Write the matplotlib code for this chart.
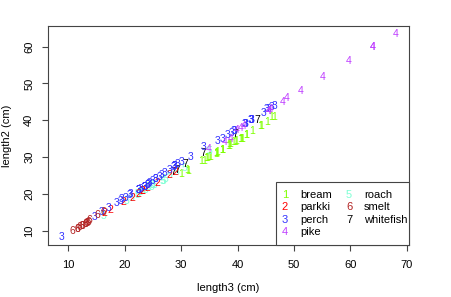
import matplotlib
matplotlib.use("Agg")
import matplotlib.pyplot as plt
from matplotlib.patches import Rectangle

plt.rcParams['font.family'] = ['Liberation Sans', 'DejaVu Sans']

# fish data: species code, length2 (cm), length3 (cm)
species_names = ["bream", "parkki", "perch", "pike", "roach", "smelt", "whitefish"]
species_colors = ["#7FFF00", "#FF0000", "#3333FF", "#BF3EFF", "#7FFFD4", "#B22222", "#000000"]

bream_l2 = [25.4, 26.3, 26.5, 29.0, 29.0, 29.7, 29.7, 30.0, 30.0, 30.7, 31.0, 31.0, 31.5, 32.0, 32.0, 32.0,
            33.0, 33.0, 33.5, 33.5, 34.0, 34.0, 34.5, 35.0, 35.0, 35.0, 35.0, 36.0, 36.0, 37.0, 38.5, 38.5,
            39.5, 41.0, 41.0]
bream_l3 = [30.0, 31.2, 31.1, 33.5, 34.0, 34.7, 34.5, 35.0, 35.1, 36.2, 36.2, 36.2, 36.4, 37.3, 37.2, 37.2,
            38.3, 38.5, 38.6, 38.7, 39.5, 39.2, 39.7, 40.6, 40.5, 40.9, 40.6, 41.5, 41.6, 42.6, 44.1, 44.0,
            45.3, 45.9, 46.5]
roach_l2 = [14.1, 18.2, 18.8, 19.8, 20.0, 20.5, 20.8, 21.0, 22.0, 22.0, 22.5, 22.5, 22.5, 24.0, 23.4, 23.5,
            25.2, 26.0, 27.0, 31.7]
roach_l3 = [16.2, 20.3, 21.2, 22.2, 22.2, 22.8, 23.1, 23.7, 24.7, 24.3, 25.3, 25.0, 25.0, 27.2, 26.7, 26.8,
            27.9, 29.2, 30.6, 35.0]
whitefish_l2 = [26.0, 26.5, 28.0, 31.0, 36.4, 40.0]
whitefish_l3 = [28.7, 29.3, 30.8, 34.0, 39.6, 43.5]
parkki_l2 = [14.7, 15.5, 17.7, 19.0, 20.0, 20.7, 20.7, 21.5, 23.0, 25.0, 26.0]
parkki_l3 = [16.5, 17.4, 19.8, 21.3, 22.4, 23.2, 23.2, 24.1, 25.8, 28.0, 29.0]
perch_l2 = [8.4, 13.7, 15.0, 16.2, 17.4, 18.0, 18.7, 19.0, 19.6, 20.0, 21.0, 21.0, 21.0, 21.3, 22.0, 22.0,
            22.0, 22.0, 22.0, 22.5, 22.5, 22.7, 23.0, 23.5, 24.0, 24.0, 24.6, 25.0, 25.6, 26.5, 27.3, 27.5,
            27.5, 27.5, 28.0, 28.7, 30.0, 32.8, 34.5, 35.0, 36.5, 36.0, 37.0, 37.0, 39.0, 39.0, 39.0, 40.0,
            40.0, 40.0, 40.0, 42.0, 43.0, 43.0, 43.5, 44.0]
perch_l3 = [8.8, 14.7, 16.0, 17.2, 18.5, 19.2, 19.4, 20.2, 20.8, 21.0, 22.5, 22.5, 22.5, 22.8, 23.5, 23.5,
            23.5, 23.5, 23.5, 24.0, 24.0, 24.2, 24.5, 25.0, 25.5, 25.5, 26.2, 26.5, 27.0, 28.0, 28.7, 28.9,
            28.9, 28.9, 29.4, 30.1, 31.6, 34.0, 36.5, 37.3, 39.0, 38.3, 39.4, 39.3, 41.4, 41.4, 41.3, 42.3,
            42.5, 42.4, 42.5, 44.6, 45.2, 45.5, 46.0, 46.6]
pike_l2 = [32.3, 34.0, 35.0, 37.3, 38.0, 38.5, 42.5, 42.5, 43.0, 45.0, 46.0, 48.0, 51.7, 56.0, 60.0, 60.0, 63.4]
pike_l3 = [34.8, 37.8, 38.8, 39.8, 40.5, 41.0, 45.5, 45.5, 45.8, 48.0, 48.7, 51.2, 55.1, 59.7, 64.0, 64.0, 68.0]
smelt_l2 = [9.8, 10.5, 10.6, 11.0, 11.2, 11.3, 11.8, 11.8, 12.0, 12.2, 12.4, 13.0, 14.3, 15.0]
smelt_l3 = [10.8, 11.6, 11.6, 12.0, 12.4, 12.6, 13.1, 13.1, 13.2, 13.4, 13.5, 13.8, 15.2, 16.2]

# drawing order as in the data file: (code, length3, length2)
groups = [(1, bream_l3, bream_l2), (5, roach_l3, roach_l2), (7, whitefish_l3, whitefish_l2),
          (2, parkki_l3, parkki_l2), (3, perch_l3, perch_l2), (4, pike_l3, pike_l2),
          (6, smelt_l3, smelt_l2)]

x_ticks = [10, 20, 30, 40, 50, 60, 70]
y_ticks = [10, 20, 30, 40, 50, 60]

W, H = 452, 297
fig = plt.figure(figsize=(W / 100, H / 100), dpi=100)
ax = fig.add_axes([48 / W, 1 - 244.7 / H, (409 - 48) / W, (244.7 - 26) / H])

all_x = [v for g in groups for v in g[1]]
all_y = [v for g in groups for v in g[2]]
xr = max(all_x) - min(all_x)
yr = max(all_y) - min(all_y)
ax.set_xlim(min(all_x) - 0.04 * xr, max(all_x) + 0.04 * xr)
ax.set_ylim(min(all_y) - 0.04 * yr, max(all_y) + 0.04 * yr)

for code, xs, ys in groups:
    for xv, yv in zip(xs, ys):
        ax.text(xv, yv, str(code), color=species_colors[code - 1], fontsize=7.5,
                ha="center", va="center")

ax.set_xticks(x_ticks)
ax.set_yticks(y_ticks)
ax.tick_params(axis="both", direction="out", length=4, width=0.8, color="#444444",
               labelsize=8)
ax.tick_params(axis="x", pad=7)
ax.tick_params(axis="y", pad=6)
for lab in ax.get_yticklabels():
    lab.set_rotation(90)
    lab.set_va("center")
for s in ax.spines.values():
    s.set_color("#444444")
    s.set_linewidth(0.8)

fig.text(228.5 / W, 1 - 288 / H, "length3 (cm)", ha="center", va="center", fontsize=8)
fig.text(7 / W, 1 - 135.4 / H, "length2 (cm)", ha="center", va="center", fontsize=8,
         rotation=90)

# legend (bottom right)
ax.add_patch(Rectangle((0.6316, 0.0), 1 - 0.6316, 0.2853, transform=ax.transAxes,
                       facecolor="white", edgecolor="#444444", linewidth=0.8, zorder=5,
                       clip_on=False))
row_y = [0.2273, 0.1701, 0.1130, 0.0558]
for i, name in enumerate(species_names):
    col = i // 4
    row = i % 4
    sx = 0.6565 if col == 0 else 0.8338
    lx = 0.698 if col == 0 else 0.8753
    ax.text(sx, row_y[row], str(i + 1), color=species_colors[i], fontsize=8,
            ha="center", va="center", transform=ax.transAxes, zorder=6)
    ax.text(lx, row_y[row], name, color="black", fontsize=8,
            ha="left", va="center", transform=ax.transAxes, zorder=6)

fig.savefig("out.png", dpi=100)
